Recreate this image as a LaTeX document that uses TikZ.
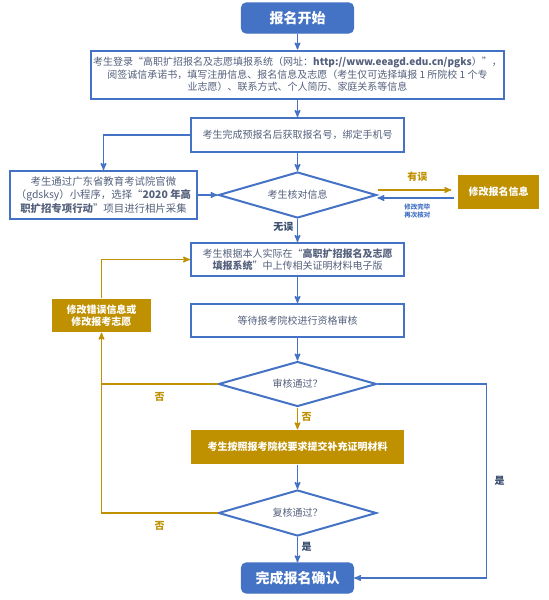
\documentclass[tikz,border=0pt]{standalone}
\usepackage{fontspec}
\setmainfont{Noto Sans CJK SC}
\usepackage{tikz}
\usetikzlibrary{arrows,shapes.geometric}

\definecolor{regblue}{RGB}{68,114,196}
\definecolor{reggold}{RGB}{191,144,0}
\definecolor{regtext}{RGB}{84,96,124}
\definecolor{reglabel}{RGB}{58,78,110}

\begin{document}
\begin{tikzpicture}[->,>=stealth',x=1pt,y=-1pt,line width=1.4pt,
                    font=\fontsize{10}{12.5}\selectfont]
  \tikzstyle{terminal}=[draw=regblue,fill=regblue,rounded corners=5pt,text=white,
    minimum width=112pt,minimum height=30pt,font=\fontsize{14}{16}\selectfont\bfseries]
  \tikzstyle{stepbox}=[draw=regblue,line width=2pt,fill=white,text=regtext,
    align=center,minimum width=213pt,minimum height=33pt,inner sep=2pt]
  \tikzstyle{goldbox}=[fill=reggold,text=white,align=center,minimum height=33pt,
    font=\fontsize{10}{12.5}\selectfont\bfseries]
  \tikzstyle{check}=[diamond,aspect=3.4,draw=regblue,line width=2pt,fill=white,text=regtext,
    minimum width=158pt,minimum height=46pt,inner sep=0pt]
  \tikzstyle{blueline}=[color=regblue]
  \tikzstyle{goldline}=[color=reggold]
  \tikzstyle{goldlabel}=[text=reggold,font=\fontsize{10}{12}\selectfont\bfseries]
  \tikzstyle{bluelabel}=[text=reglabel,font=\fontsize{10}{12}\selectfont\bfseries]

  \useasboundingbox (0,0) rectangle (549,600);

  \node[terminal] (start) at (297.5,18) {报名开始};
  \node[stepbox,minimum width=411pt,minimum height=48pt] (login) [below of=start,node distance=56.5pt]
  {考生登录“高职扩招报名及志愿填报系统（网址：\textbf{http://www.eeagd.edu.cn/pgks}）”，\\
   阅签诚信承诺书，填写注册信息、报名信息及志愿（考生仅可选择填报 1 所院校 1 个专\\
   业志愿）、联系方式、个人简历、家庭关系等信息};
  \node[stepbox,minimum height=34pt] (prereg) [below of=login,node distance=60.5pt]
  {考生完成预报名后获取报名号，绑定手机号};
  \node[check] (verify) [below of=prereg,node distance=60pt] {考生核对信息};
  \node[stepbox,minimum width=187pt,minimum height=48pt,font=\fontsize{10.4}{13.3}\selectfont]
  (photo) [left of=verify,node distance=194pt]
  {考生通过广东省教育考试院官微\\（gdsksy）小程序，选择“\textbf{2020 年高}\\
   \textbf{职扩招专项行动}”项目进行相片采集};
  \node[goldbox,minimum width=81pt,minimum height=34pt] (fixinfo)
  [right of=verify,node distance=201pt,yshift=3pt] {修改报名信息};
  \node[stepbox] (upload) [below of=verify,node distance=64.5pt]
  {考生根据本人实际在“\textbf{高职扩招报名及志愿}\\\textbf{填报系统}”中上传相关证明材料电子版};
  \node[stepbox] (review) [below of=upload,node distance=61pt] {等待报考院校进行资格审核};
  \node[goldbox,minimum width=99pt] (amend) [left of=review,node distance=196pt,yshift=5pt]
  {修改错误信息或\\修改报考志愿};
  \node[check,minimum height=45pt] (audit) [below of=review,node distance=63.5pt] {审核通过？};
  \node[goldbox,minimum width=213pt,minimum height=34pt] (supply) [below of=audit,node distance=63pt]
  {考生按照报考院校要求提交补充证明材料};
  \node[check] (recheck) [below of=supply,node distance=66pt] {复核通过？};
  \node[terminal] (done) [below of=recheck,node distance=65pt] {完成报名确认};

  \coordinate[right of=audit,node distance=189pt] (bypass);
  \coordinate (errout) at ([yshift=5pt]verify.east);
  \coordinate (errback) at ([yshift=-3pt]verify.east);

\path[blueline] (start) edge (login)
      (login) edge (prereg)
      (prereg) edge (verify)
      (photo) edge (verify)
      (verify) edge node[bluelabel,left,pos=0.35] {无误} (upload)
      (upload) edge (review)
      (review) edge (audit)
      (supply) edge (recheck)
      (recheck) edge node[bluelabel,right,pos=0.38] {是} (done);
\path[goldline] (audit) edge node[goldlabel,right,pos=0.45] {否} (supply);

\draw[blueline] (prereg.west) -| (photo.north);
\draw[goldline,shorten >=6pt] (errout) -- (errout -| fixinfo.west)
      node[goldlabel,midway,above=4pt] {有误};
\draw[blueline,shorten <=3pt] (errback -| fixinfo.west) -- (errback)
      node[midway,below=2pt,align=center,text=regblue,
           font=\fontsize{6.5}{8}\selectfont\bfseries] {修改完毕\\再次核对};
\draw[goldline,-] (audit.west) -- (audit.west -| amend.south)
      node[goldlabel,midway,below=4pt] {否};
\draw[goldline] (recheck.west) -| (amend.south)
      node[goldlabel,pos=0.25,below=4pt] {否};
\draw[goldline] (amend.north) |- (upload.west);
\draw[blueline] (audit.east) -- (bypass) |- (done.east)
      node[bluelabel,pos=0.25,right=4pt] {是};

\end{tikzpicture}
\end{document}
